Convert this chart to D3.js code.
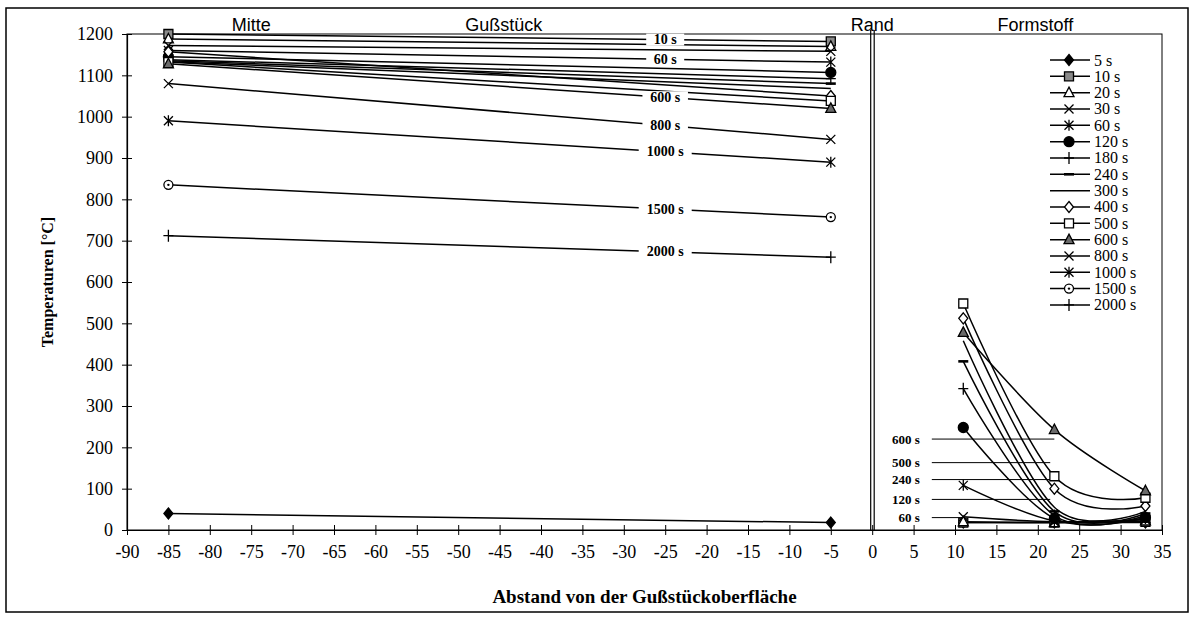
<!DOCTYPE html>
<html lang="de">
<head>
<meta charset="UTF-8">
<title>Temperaturen Gußstück / Formstoff</title>
<script src="https://d3js.org/d3.v7.min.js"></script>
<style>
    * { margin: 0; padding: 0; box-sizing: border-box; }
    html, body { width: 100vw; height: 100vh; overflow: clip; background: #fff; }
    svg { display: block; }
</style>
</head>
<body>
<svg id="chart" width="1193" height="622"></svg>
<script>
    // series names and their marker style
    const series = ["5 s", "10 s", "20 s", "30 s", "60 s", "120 s", "180 s", "240 s", "300 s",
        "400 s", "500 s", "600 s", "800 s", "1000 s", "1500 s", "2000 s"]
    const markerTypes = ["diamondFilled", "squareGray", "triangleOpen", "x", "asterisk", "circleFilled",
        "plus", "dash", "none", "diamondOpen", "squareOpen", "triangleGray", "x", "asterisk", "circleDot", "plus"]

    // Gußstück: measuring points at -85 and -5 mm
    const castX = [-85, -5]
    const castTemps = [
        [40, 18], [1200, 1182], [1188, 1170], [1172, 1158], [1160, 1132], [1145, 1107],
        [1138, 1092], [1135, 1080], [1133, 1068], [1157, 1050], [1132, 1038], [1128, 1020],
        [1080, 945], [990, 890], [835, 757], [712, 660],
    ]

    // Formstoff: measuring points at 11, 22, 33 mm
    const moldX = [11, 22, 33]
    const moldTemps = [
        [18, 18, 18], [18, 18, 20], [20, 18, 22], [32, 20, 25], [108, 22, 28], [248, 28, 30],
        [342, 35, 35], [408, 45, 40], [458, 55, 45], [512, 100, 58], [548, 130, 78], [478, 243, 95],
        null, null, null, null,
    ]

    const xTicks = d3.range(-90, 36, 5)
    const yTicks = d3.range(0, 1201, 100)

    // labels written into the cast lines
    const lineLabels = ["10 s", "60 s", "600 s", "800 s", "1000 s", "1500 s", "2000 s"]
    const lineLabelX = -25

    // labels with leader lines in the mould part
    const moldLabels = ["600 s", "500 s", "240 s", "120 s", "60 s"]
    const moldLabelTemps = [220, 163, 122, 74, 30]
    const moldLabelEnds = [22, 21.5, 21.5, 21.5, 11]
    const moldLabelStart = 7.2

    const sections = ["Mitte", "Gußstück", "Rand", "Formstoff"]
    const sectionX = [-75, -44.5, 0, 19.7]

    const SERIF = "'Times New Roman', 'Liberation Serif', serif"
    const SANS = "Arial, 'Liberation Sans', sans-serif"

    const svg = d3.select("#chart")
    const x = d3.scaleLinear([-90, 35], [127, 1162])
    const y = d3.scaleLinear([0, 1200], [530, 34])

    function markerPath(type) {
        const circle = r => `M${r},0A${r},${r} 0 1,1 ${-r},0A${r},${r} 0 1,1 ${r},0Z`
        switch (type) {
            case "diamondFilled":
            case "diamondOpen":
                return "M0,-5.5L4.5,0L0,5.5L-4.5,0Z"
            case "squareGray":
            case "squareOpen":
                return "M-4.5,-4.5H4.5V4.5H-4.5Z"
            case "triangleOpen":
            case "triangleGray":
                return "M0,-5.5L5,4H-5Z"
            case "x":
                return "M-4.5,-4.5L4.5,4.5M4.5,-4.5L-4.5,4.5"
            case "asterisk":
                return "M-4.5,-4.5L4.5,4.5M4.5,-4.5L-4.5,4.5M0,-5.5V5.5"
            case "circleFilled":
                return circle(5)
            case "circleDot":
                return circle(4.5)
            case "plus":
                return "M-5,0H5M0,-6V6"
            case "dash":
                return "M-5,0H5"
            default:
                return null
        }
    }
    const markerFill = t => ({
        diamondFilled: "#000", circleFilled: "#000", squareGray: "#8a8a8a", triangleGray: "#6a6a6a",
        diamondOpen: "#fff", squareOpen: "#fff", triangleOpen: "#fff", circleDot: "#fff",
    })[t] || "none"

    function drawMarker(g, type, px, py) {
        const d = markerPath(type)
        if (!d) return
        g.append("path")
            .attr("transform", `translate(${px},${py})`)
            .attr("d", d)
            .attr("fill", markerFill(type))
            .attr("stroke", "#000")
            .attr("stroke-width", type === "dash" ? 2.6 : 1.3)
        if (type === "circleDot") {
            g.append("circle").attr("cx", px).attr("cy", py).attr("r", 1.2).attr("fill", "#000")
        }
    }

    // outer frame
    svg.append("rect")
        .attr("x", 6).attr("y", 8).attr("width", 1182).attr("height", 604)
        .attr("fill", "none").attr("stroke", "#000").attr("stroke-width", 1.5)

    // plot area border
    svg.append("rect")
        .attr("x", x(-90)).attr("y", y(1200))
        .attr("width", x(35) - x(-90)).attr("height", y(0) - y(1200))
        .attr("fill", "none").attr("stroke", "#000").attr("stroke-width", 1)

    // double line at the cast surface (x = 0)
    ;[-1.5, 2].forEach(o => svg.append("line")
        .attr("x1", x(0) + o).attr("x2", x(0) + o)
        .attr("y1", 30).attr("y2", y(0))
        .attr("stroke", "#000").attr("stroke-width", 1.2))

    // y axis
    const yAxis = svg.append("g").attr("transform", `translate(${x(-90)},0)`)
        .call(d3.axisLeft(y).tickValues(yTicks).tickFormat(d => String(d))
            .tickSizeInner(5).tickSizeOuter(0).tickPadding(9))
    yAxis.selectAll(".tick line").attr("x2", 5).attr("x1", -5)
    yAxis.select(".domain").attr("stroke-width", 1.2)
    yAxis.selectAll("text").style("font-family", SERIF).style("font-size", "18px").attr("fill", "#000")

    // x axis
    const xAxis = svg.append("g").attr("transform", `translate(0,${y(0)})`)
        .call(d3.axisBottom(x).tickValues(xTicks).tickFormat(d => String(d))
            .tickSizeInner(5).tickSizeOuter(0).tickPadding(10))
    xAxis.selectAll(".tick line").attr("y1", -5).attr("y2", 5)
    xAxis.select(".domain").attr("stroke-width", 1.2)
    xAxis.selectAll("text").style("font-family", SERIF).style("font-size", "18px").attr("fill", "#000")

    // lines
    const line = d3.line()
        .x(d => x(d[0])).y(d => y(d[1]))
        .curve(d3.curveCardinal.tension(0))
    const gLines = svg.append("g")
        .attr("fill", "none").attr("stroke", "#000").attr("stroke-width", 1.5)
    series.forEach((s, i) => {
        gLines.append("path").attr("d", line(castX.map((v, j) => [v, castTemps[i][j]])))
        if (moldTemps[i]) gLines.append("path").attr("d", line(moldX.map((v, j) => [v, moldTemps[i][j]])))
    })

    // labels inside the cast lines
    const gLab = svg.append("g").style("font-family", SERIF)
    lineLabels.forEach(l => {
        const i = series.indexOf(l)
        const t = (lineLabelX - castX[0]) / (castX[1] - castX[0])
        const v = castTemps[i][0] + t * (castTemps[i][1] - castTemps[i][0])
        const w = l.length * 7.5 + 8
        gLab.append("rect")
            .attr("x", x(lineLabelX) - w / 2).attr("y", y(v) - 6)
            .attr("width", w).attr("height", 12).attr("fill", "#fff")
        gLab.append("text")
            .attr("x", x(lineLabelX)).attr("y", y(v))
            .attr("text-anchor", "middle").attr("dominant-baseline", "central")
            .style("font-size", "14px").style("font-weight", "bold")
            .text(l)
    })

    // mould labels with leader lines
    moldLabels.forEach((l, i) => {
        const py = y(moldLabelTemps[i])
        gLab.append("line")
            .attr("x1", x(moldLabelStart)).attr("x2", x(moldLabelEnds[i]))
            .attr("y1", py).attr("y2", py)
            .attr("stroke", "#000").attr("stroke-width", 1)
        gLab.append("text")
            .attr("x", x(moldLabelStart) - 12).attr("y", py)
            .attr("text-anchor", "end").attr("dominant-baseline", "central")
            .style("font-size", "13px").style("font-weight", "bold")
            .text(l)
    })

    // markers
    const gMark = svg.append("g")
    series.forEach((s, i) => {
        castX.forEach((v, j) => drawMarker(gMark, markerTypes[i], x(v), y(castTemps[i][j])))
        if (moldTemps[i]) moldX.forEach((v, j) => drawMarker(gMark, markerTypes[i], x(v), y(moldTemps[i][j])))
    })

    // section headings
    svg.append("g").style("font-family", SANS)
        .selectAll("text").data(sections).join("text")
        .attr("x", (d, i) => x(sectionX[i])).attr("y", 31)
        .attr("text-anchor", "middle")
        .style("font-size", "18px")
        .text(d => d)

    // legend
    const gLeg = svg.append("g").style("font-family", SERIF)
    series.forEach((s, i) => {
        const ly = 60 + i * 16.33
        gLeg.append("line").attr("x1", 1050).attr("x2", 1090).attr("y1", ly).attr("y2", ly)
            .attr("stroke", "#000").attr("stroke-width", 1.5)
        drawMarker(gLeg, markerTypes[i], 1069, ly)
        gLeg.append("text").attr("x", 1094).attr("y", ly)
            .attr("dominant-baseline", "central")
            .style("font-size", "16px")
            .text(s)
    })

    // axis titles
    svg.append("text").style("font-family", SERIF)
        .attr("x", (x(-90) + x(35)) / 2).attr("y", 596)
        .attr("text-anchor", "middle").attr("dominant-baseline", "central")
        .style("font-size", "19px").style("font-weight", "bold")
        .text("Abstand von der Gußstückoberfläche")
    svg.append("text").style("font-family", SERIF)
        .attr("transform", `translate(47,${(y(0) + y(1200)) / 2}) rotate(-90)`)
        .attr("text-anchor", "middle").attr("dominant-baseline", "central")
        .style("font-size", "16px").style("font-weight", "bold")
        .text("Temperaturen [°C]")
</script>
</body>
</html>
